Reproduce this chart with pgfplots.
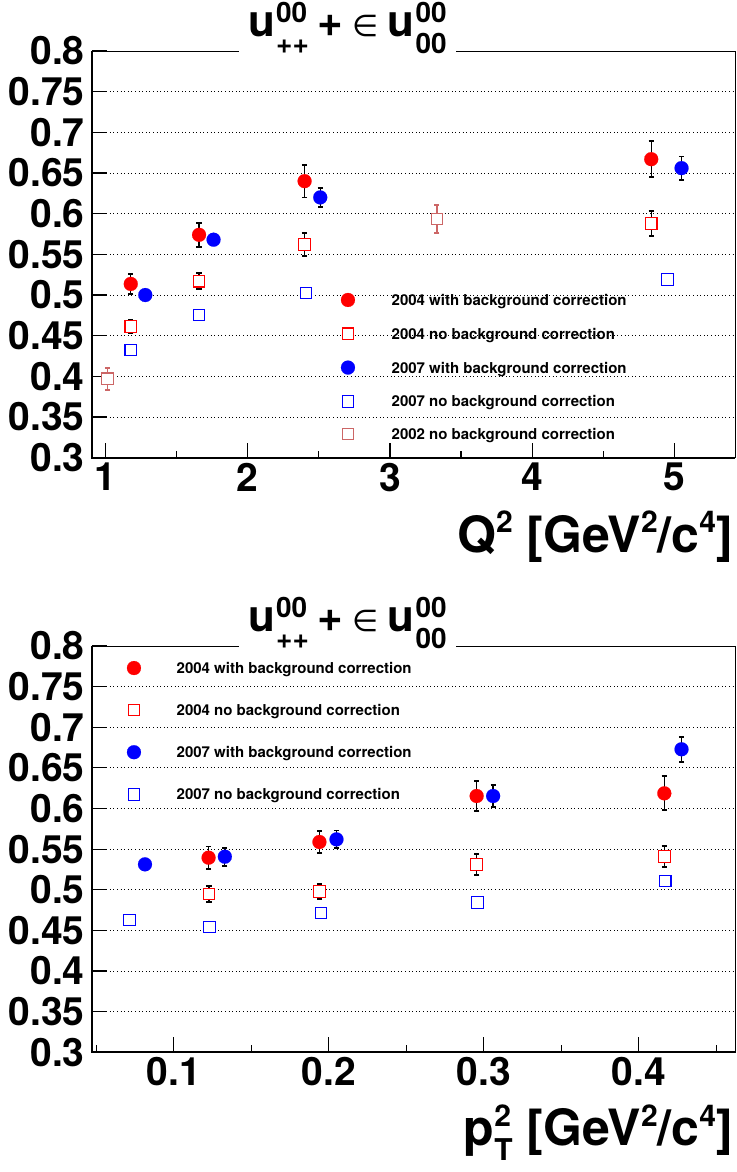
\documentclass[border=0pt]{standalone}
\usepackage{fontspec}
\setmainfont{TeX Gyre Heros}
\newfontfamily\dejavu{DejaVu Sans}
\usepackage{pgfplots}
\usepackage{pgfplotstable}
\pgfplotsset{compat=1.18}
\definecolor{rootred}{RGB}{255,0,0}
\definecolor{rootblue}{RGB}{0,0,255}
\definecolor{pinkold}{RGB}{204,102,102}

% ---- Q^2 panel data ----
\pgfplotstableread{
x y e
1.178 0.5136 0.012
1.658 0.574 0.015
2.40 0.640 0.020
4.837 0.667 0.022
}\qAwith
\pgfplotstableread{
x y e
1.178 0.461 0.008
1.658 0.517 0.010
2.40 0.562 0.0145
4.837 0.588 0.015
}\qAno
\pgfplotstableread{
x y e
1.28 0.500 0.004
1.76 0.568 0.004
2.51 0.620 0.012
5.05 0.656 0.0143
}\qBwith
\pgfplotstableread{
x y
1.178 0.4325
1.658 0.4755
2.41 0.5025
4.95 0.519
}\qBno
\pgfplotstableread{
x y e
1.014 0.397 0.0137
3.33 0.5935 0.017
}\qCno
% ---- pT^2 panel data ----
\pgfplotstableread{
x y e
0.1225 0.5395 0.0137
0.194 0.5588 0.014
0.2954 0.6154 0.0185
0.4164 0.6187 0.021
}\pAwith
\pgfplotstableread{
x y e
0.1228 0.4948 0.010
0.194 0.4977 0.009
0.2954 0.5309 0.013
0.4164 0.5407 0.013
}\pAno
\pgfplotstableread{
x y e
0.0815 0.5313 0.004
0.133 0.5407 0.011
0.205 0.562 0.011
0.306 0.6154 0.0135
0.4275 0.6729 0.0155
}\pBwith
\pgfplotstableread{
x y
0.0715 0.4628
0.123 0.4542
0.195 0.4714
0.296 0.4841
0.417 0.5108
}\pBno

\newcommand{\sz}[1]{\fontsize{#1}{#1}\selectfont}
\newcommand{\titletext}{\sz{44}\bfseries u\kern1pt\makebox[0pt][l]{\raisebox{14pt}{\sz{28}00}}\raisebox{-17pt}{\sz{28}++}\hspace{9pt}+\hspace{9pt}{\mdseries\dejavu\sz{30}∈}\hspace{9pt}u\kern1pt\makebox[0pt][l]{\raisebox{14pt}{\sz{28}00}}\raisebox{-17pt}{\sz{28}00}}

\pgfplotsset{
  rootaxis/.style={
    scale only axis, width=643.2pt,
    ymin=0.3, ymax=0.8,
    ytick={0.3,0.35,0.4,0.45,0.5,0.55,0.6,0.65,0.7,0.75,0.8},
    yticklabels={0.3,0.35,0.4,0.45,0.5,0.55,0.6,0.65,0.7,0.75,0.8},
    ymajorgrids, grid style={black, line width=0.9pt, dash pattern=on 1pt off 2.6pt},
    tick align=inside, xtick pos=bottom, ytick pos=left,
    major tick length=15pt, minor tick length=7pt,
    tick style={black, line width=1.2pt},
    axis line style={line width=0.8pt},
    /pgf/number format/assume math mode=true,
    ticklabel style={font=\sz{39}\bfseries, inner sep=0pt},
    x tick label style={yshift=-5pt},
    y tick label style={xshift=-7pt},
    clip=false,
    legend style={draw=none, fill=none, inner sep=0pt, outer sep=0pt, column sep=0pt,
      font=\sz{15}\bfseries, nodes={inner sep=0pt, text height=11pt, text depth=0pt}},
    legend cell align=left,
  },
  ebonly/.style={forget plot, only marks, mark=none,
    error bars/y dir=both, error bars/y explicit,
    error bars/error bar style={#1, line width=1.3pt},
    error bars/error mark options={#1, line width=1.8pt, mark size=2.6pt, rotate=90}},
  fcirc/.style={only marks, mark=*, mark size=7pt, mark options={draw=#1, fill=#1, line width=0.1pt}},
  osq/.style={only marks, mark=square*, mark size=5.8pt, mark options={draw=#1, fill=white, line width=1.1pt}},
  lgA/.style={legend image code/.code={\path (0pt,0pt) (43.5pt,0pt); \draw[mark repeat=2,mark phase=2] plot coordinates {(-10pt,0pt)(0pt,0pt)(10pt,0pt)};}},
  lgB/.style={legend image code/.code={\path (0pt,0pt) (42.5pt,0pt); \draw[mark repeat=2,mark phase=2] plot coordinates {(-10pt,0pt)(0pt,0pt)(10pt,0pt)};}},
}

\begin{document}
\begin{tikzpicture}
\path[use as bounding box] (0pt,0pt) rectangle (736pt,1172pt);

% ---------------- top panel ----------------
\begin{axis}[rootaxis, name=top, height=406.7pt,
  at={(91.8pt,714.3pt)}, anchor=south west,
  xmin=0.904, xmax=5.426,
  xtick={1,2,3,4,5}, xticklabels={1,2,3,4,5},
  minor xtick={1.5,2.5,3.5,4.5},
  legend style={at={(axis description cs:0.3874,0.405)}, anchor=north west, row sep=21pt},
]
\addplot[ebonly=black] table[y error=e] {\qAwith};
\addplot[ebonly=black] table[y error=e] {\qAno};
\addplot[ebonly=black] table[y error=e] {\qBwith};
\addplot[ebonly=pinkold] table[y error=e] {\qCno};
\addplot[fcirc=rootred, lgA] table {\qAwith};
\addlegendentry{2004 with background correction}
\addplot[osq=rootred, lgA] table {\qAno};
\addlegendentry{2004 no background correction}
\addplot[fcirc=rootblue, lgA] table {\qBwith};
\addlegendentry{2007 with background correction}
\addplot[osq=rootblue, lgA] table {\qBno};
\addlegendentry{2007 no background correction}
\addplot[osq=pinkold, lgA] table {\qCno};
\addlegendentry{2002 no background correction}
\end{axis}
\draw[line width=1.8pt] (top.north west) -- (top.south west) -- (top.south east);
\node[fill=white, inner xsep=9pt, inner ysep=2pt, anchor=base] at (347.5pt,1135pt) {\titletext};
\node[anchor=base east, inner sep=0pt, font=\sz{50}\bfseries] at (733pt,619pt)
  {Q\raisebox{20pt}{\sz{30}2} [GeV\raisebox{20pt}{\sz{30}2}/c\raisebox{20pt}{\sz{30}4}]};

% ---------------- bottom panel ----------------
\begin{axis}[rootaxis, name=bot, height=406.3pt,
  at={(91.8pt,119.7pt)}, anchor=south west,
  xmin=0.0472, xmax=0.462,
  xtick={0.1,0.2,0.3,0.4}, xticklabels={0.1,0.2,0.3,0.4},
  minor xtick={0.05,0.15,0.25,0.35,0.45},
  legend style={at={(axis description cs:0.0547,0.963)}, anchor=north west, row sep=29.3pt},
]
\addplot[ebonly=black] table[y error=e] {\pAwith};
\addplot[ebonly=black] table[y error=e] {\pAno};
\addplot[ebonly=black] table[y error=e] {\pBwith};
\addplot[fcirc=rootred, lgB] table {\pAwith};
\addlegendentry{2004 with background correction}
\addplot[osq=rootred, lgB] table {\pAno};
\addlegendentry{2004 no background correction}
\addplot[fcirc=rootblue, lgB] table {\pBwith};
\addlegendentry{2007 with background correction}
\addplot[osq=rootblue, lgB] table {\pBno};
\addlegendentry{2007 no background correction}
\end{axis}
\draw[line width=1.8pt] (bot.north west) -- (bot.south west) -- (bot.south east);
\node[fill=white, inner xsep=9pt, inner ysep=2pt, anchor=base] at (347.5pt,540pt) {\titletext};
\node[anchor=base east, inner sep=0pt, font=\sz{50}\bfseries] at (733pt,26pt)
  {p\makebox[0pt][l]{\raisebox{20pt}{\sz{30}2}}\raisebox{-14pt}{\sz{30}T} [GeV\raisebox{20pt}{\sz{30}2}/c\raisebox{20pt}{\sz{30}4}]};
\end{tikzpicture}
\end{document}
